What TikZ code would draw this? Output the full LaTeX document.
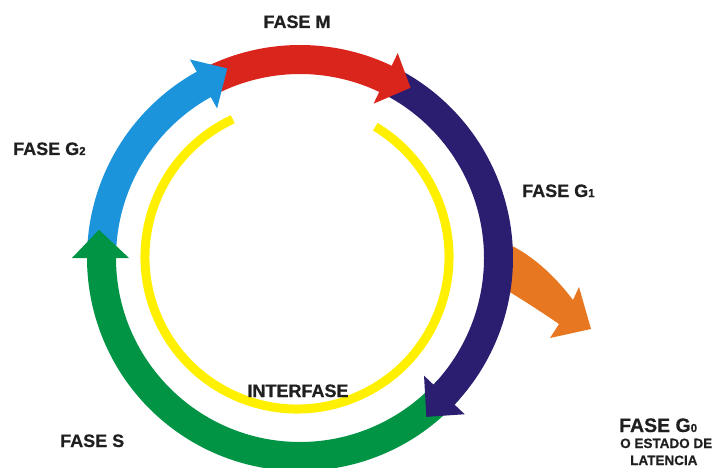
\documentclass[tikz,border=0pt]{standalone}
\usepackage{fontspec}
\setmainfont{Liberation Sans}[BoldFeatures={FakeBold=0.6}]
\usetikzlibrary{calc}
\definecolor{cred}{RGB}{218,37,29}
\definecolor{cblue}{RGB}{27,148,220}
\definecolor{cnavy}{RGB}{43,29,112}
\definecolor{cgreen}{RGB}{0,148,68}
\definecolor{cyellow}{RGB}{255,240,0}
\definecolor{corange}{RGB}{232,119,34}
\newcommand\smalldig[1]{{\fontsize{11.5}{11.5}\selectfont #1}}
\begin{document}
\begin{tikzpicture}[x=1pt,y=1pt,
  lbl/.style={inner sep=0pt, text=black!88, font=\bfseries\fontsize{18}{18}\selectfont},
  lblsmall/.style={inner sep=0pt, text=black!88, font=\bfseries\fontsize{13.5}{13.5}\selectfont}]
\useasboundingbox (0,0) rectangle (718,-468);
\clip (0,0) rectangle (718,-468);
% orange arrow to G0
\fill[corange] (498,-240) .. controls (528,-250) and (555,-276) .. (573,-300)
  -- (579,-287) -- (591,-329) -- (550,-338) -- (559,-324)
  .. controls (540,-311) and (520,-298) .. (498,-285) -- cycle;
% yellow interphase arc
\draw[cyellow, line width=9] (297,-257) ++(115:152) arc[start angle=115, end angle=419, radius=152];
% ring
\begin{scope}[shift={(300,-258)}]
  % bodies
  \fill[cgreen] (-41.5:213) arc[start angle=-41.5, end angle=-180.5, radius=213] -- (-180.5:184) arc[start angle=-180.5, end angle=-41.5, radius=184] -- cycle;
  \fill[cblue] (178:213) arc[start angle=178, end angle=118.5, radius=213] -- (118.5:184) arc[start angle=118.5, end angle=178, radius=184] -- cycle;
  \fill[cred] (117:213) arc[start angle=117, end angle=64, radius=213] -- (64:184) arc[start angle=64, end angle=117, radius=184] -- cycle;
  \fill[cnavy] (62.5:213) arc[start angle=62.5, end angle=-44, radius=213] -- (-44:184) arc[start angle=-44, end angle=62.5, radius=184] -- cycle;
  % heads
  \fill[cred] (64.5:227) -- (57:203) -- (64.5:171) -- cycle;
  \fill[cnavy] (-43.5:227) -- (-51.5:203) -- (-43.5:171) -- cycle;
  \fill[cgreen] (180:228) -- (172:203) -- (180:171) -- cycle;
  \fill[cblue] (119:227) -- (111:203) -- (119:171) -- cycle;
\end{scope}
% labels
\node[lbl, anchor=base] (m) at (297,-28) {FASE M};
\node[lbl, anchor=base west] (g2) at (13,-155) {FASE G\smalldig{2}};
\node[lbl, anchor=base west] (g1) at (522,-197) {FASE G\smalldig{1}};
\node[lbl, anchor=base west, font=\bfseries\fontsize{19.5}{19.5}\selectfont] (g0) at (619,-432) {FASE G\smalldig{0}};
\node[lblsmall, anchor=base west] (est) at (620,-448) {O ESTADO DE};
\node[lblsmall, anchor=base west] (lat) at (630,-465) {LATENCIA};
\node[lbl, anchor=base west] (s) at (60,-447) {FASE S};
\node[lbl, anchor=base] (inter) at (298,-397) {INTERFASE};
\end{tikzpicture}
\end{document}
